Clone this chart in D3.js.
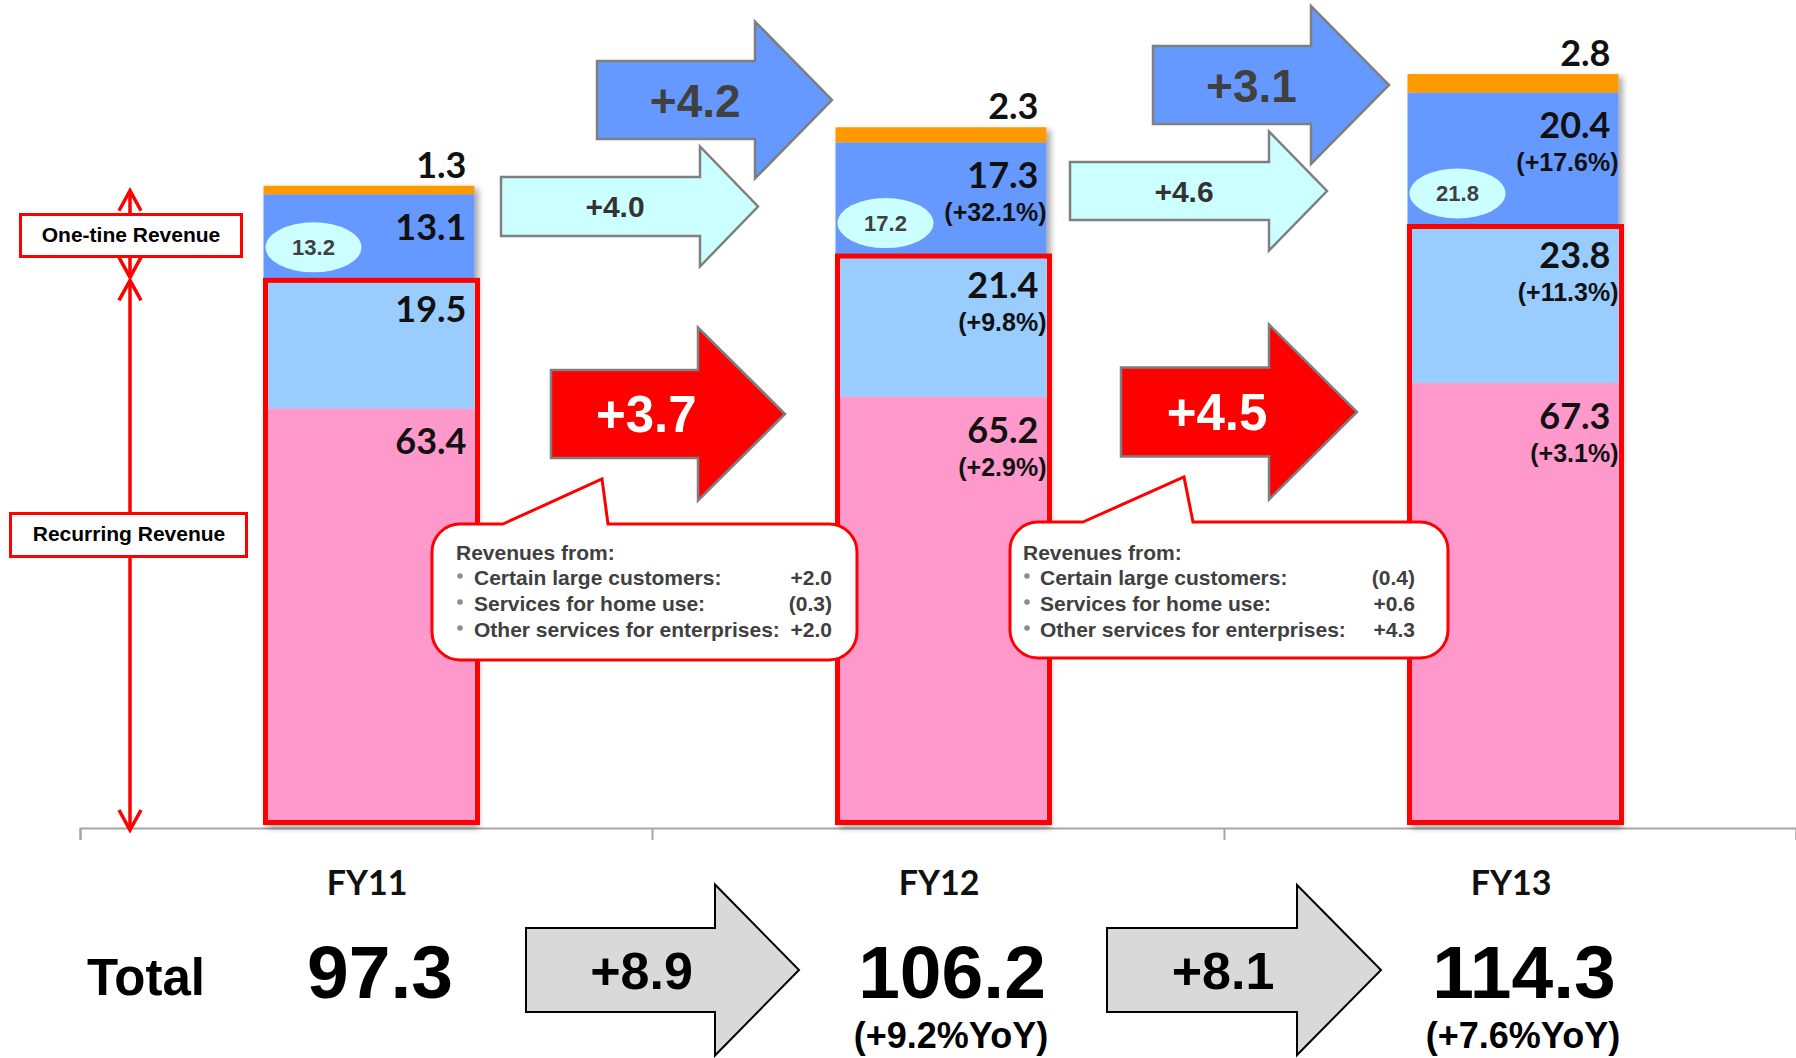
<!DOCTYPE html>
<html>
<head>
<meta charset="utf-8">
<script src="https://cdn.jsdelivr.net/npm/d3@7"></script>
<style>
  body { margin: 0; background: #fff; }
  svg { display: block; }
  .arial { font-family: "Liberation Sans", Arial, sans-serif; font-weight: bold; }
  .calib { font-family: Lato, "Open Sans", sans-serif; font-weight: bold; }
</style>
</head>
<body>
<div id="chart"></div>
<script>
// ---- data ----
var categories = ["FY11", "FY12", "FY13"];
var recurringOther = [63.4, 65.2, 67.3];   // pink
var recurringMain = [19.5, 21.4, 23.8];    // light blue
var oneTimeMain = [13.1, 17.3, 20.4];      // blue
var oneTimeOther = [1.3, 2.3, 2.8];        // orange
var pctOther = [null, "(+2.9%)", "(+3.1%)"];
var pctMain = [null, "(+9.8%)", "(+11.3%)"];
var pctOneTime = [null, "(+32.1%)", "(+17.6%)"];
var bubbleValues = [13.2, 17.2, 21.8];
var totals = [97.3, 106.2, 114.3];
var totalYoY = [null, "(+9.2%YoY)", "(+7.6%YoY)"];
var deltaOneTime = ["+4.2", "+3.1"];
var deltaBubble = ["+4.0", "+4.6"];
var deltaRecurring = ["+3.7", "+4.5"];
var deltaTotal = ["+8.9", "+8.1"];
var calloutItems = ["Certain large customers:", "Services for home use:", "Other services for enterprises:"];
var calloutValues = [["+2.0", "(0.3)", "+2.0"], ["(0.4)", "+0.6", "+4.3"]];

// svg dimensions
var svgWidth = 1796;
var svgHeight = 1058;

var svg = d3.select("#chart")
  .append("svg")
  .attr("width", svgWidth)
  .attr("height", svgHeight);

var defs = svg.append("defs");
defs.append("filter")
  .attr("id", "shadow")
  .attr("x", "-10%").attr("y", "-10%")
  .attr("width", "130%").attr("height", "130%")
  .append("feDropShadow")
  .attr("dx", 4).attr("dy", 3)
  .attr("stdDeviation", 3)
  .attr("flood-color", "#000")
  .attr("flood-opacity", 0.35);

// scales
var x = d3.scaleBand().domain(categories).range([80, 1796]);
var y = d3.scaleLinear().domain([0, 125]).range([825, 3.75]);
var barW = 211;
function barX(c) { return x(c) + x.bandwidth() / 2 + 3 - barW / 2; }
function barC(c) { return x(c) + x.bandwidth() / 2 + 3; }
function boundary(i) { return x(categories[i + 1]); }

// stacked table
var keys = ["other", "main", "oneTime", "oneTimeOther"];
var colors = {other: "#FF99CC", main: "#99CCFF", oneTime: "#6699FF", oneTimeOther: "#FF9900"};
var table = categories.map(function(c, i) {
  return {cat: c, other: recurringOther[i], main: recurringMain[i],
          oneTime: oneTimeMain[i], oneTimeOther: oneTimeOther[i]};
});
var series = d3.stack().keys(keys)(table);

// axis with ticks at band boundaries
var xb = d3.scaleLinear().domain([0, categories.length]).range(x.range());
var axis = svg.append("g")
  .attr("transform", "translate(0, 828)")
  .call(d3.axisBottom(xb).tickValues(d3.range(categories.length + 1))
    .tickSize(12).tickSizeOuter(12).tickFormat(""));
axis.selectAll("path, line").attr("stroke", "#A6A6A6").attr("stroke-width", 2);

// category labels
svg.selectAll(".cat")
  .data(categories)
  .enter()
  .append("text")
  .attr("class", "calib")
  .attr("x", d => barC(d) - 2)
  .attr("y", 895)
  .attr("text-anchor", "middle")
  .attr("font-size", 34)
  .attr("fill", "#111")
  .text(d => d);

// bars
var barGroup = svg.append("g").attr("filter", "url(#shadow)");
barGroup.selectAll("g")
  .data(series)
  .enter()
  .append("g")
  .attr("fill", d => colors[d.key])
  .selectAll("rect")
  .data(d => d)
  .enter()
  .append("rect")
  .attr("x", d => barX(d.data.cat))
  .attr("y", d => y(d[1]))
  .attr("width", barW)
  .attr("height", d => y(d[0]) - y(d[1]));

// red frame around recurring revenue
svg.selectAll(".frame")
  .data(table)
  .enter()
  .append("rect")
  .attr("x", d => barX(d.cat) + 2)
  .attr("y", d => y(d.other + d.main))
  .attr("width", barW + 1)
  .attr("height", d => y(0) - 2.5 - y(d.other + d.main))
  .attr("fill", "none")
  .attr("stroke", "#FF0000")
  .attr("stroke-width", 5);

// bubbles inside one-time segment
table.forEach(function(d, i) {
  var cx = barX(d.cat) + 50;
  var cy = y(d.other + d.main) - 33;
  svg.append("ellipse")
    .attr("cx", cx).attr("cy", cy)
    .attr("rx", 48).attr("ry", 25)
    .attr("fill", "#CCFFFF");
  svg.append("text")
    .attr("class", "arial")
    .attr("x", cx).attr("y", cy + 8)
    .attr("text-anchor", "middle")
    .attr("font-size", 22)
    .attr("fill", "#404040")
    .text(bubbleValues[i].toFixed(1));
});

// segment labels
var labelSpec = [
  {key: "other", off: 46, pct: pctOther},
  {key: "main", off: 42, pct: pctMain},
  {key: "oneTime", off: 46, pct: pctOneTime}
];
labelSpec.forEach(function(spec) {
  var s = series.find(d => d.key === spec.key);
  s.forEach(function(d, i) {
    var right = barX(d.data.cat) + barW;
    var base = y(d[1]) + spec.off;
    svg.append("text")
      .attr("class", "calib")
      .attr("x", right - 8).attr("y", base)
      .attr("text-anchor", "end")
      .attr("font-size", 36)
      .attr("fill", "#111")
      .text((d[1] - d[0]).toFixed(1));
    if (spec.pct[i]) {
      svg.append("text")
        .attr("class", "arial")
        .attr("x", right).attr("y", base + 33)
        .attr("text-anchor", "end")
        .attr("font-size", 25)
        .attr("fill", "#111")
        .text(spec.pct[i]);
    }
  });
});
// top (orange) labels
var topSeries = series.find(d => d.key === "oneTimeOther");
svg.selectAll(".toplab")
  .data(topSeries)
  .enter()
  .append("text")
  .attr("class", "calib")
  .attr("x", d => barX(d.data.cat) + barW - 8)
  .attr("y", d => y(d[1]) - 8)
  .attr("text-anchor", "end")
  .attr("font-size", 36)
  .attr("fill", "#111")
  .text(d => (d[1] - d[0]).toFixed(1));

// block arrows
function arrowPath(x0, xh, xt, yc, bh, hh) {
  var p = d3.path();
  p.moveTo(x0, yc - bh);
  p.lineTo(xh, yc - bh);
  p.lineTo(xh, yc - hh);
  p.lineTo(xt, yc);
  p.lineTo(xh, yc + hh);
  p.lineTo(xh, yc + bh);
  p.lineTo(x0, yc + bh);
  p.closePath();
  return p.toString();
}
// offsets relative to the boundary between two bands: [x0, xHead, xTip, yCenter, bodyHalf, headHalf]
var arrowSets = [
  {labels: deltaOneTime, fill: "#6699FF", stroke: "#7F7F7F", sw: 2.5, color: "#404040", size: 46,
   shapes: [[-55, 103, 180, 100, 39, 78.5], [-71, 87, 165, 85, 39, 79]]},
  {labels: deltaBubble, fill: "#CCFFFF", stroke: "#7F7F7F", sw: 2.5, color: "#333333", size: 30,
   shapes: [[-151, 48, 106, 206.5, 29.5, 60], [-154, 45, 103, 191, 29, 59.5]]},
  {labels: deltaRecurring, fill: "#FF0000", stroke: "#7F7F7F", sw: 2.5, color: "#FFFFFF", size: 51,
   shapes: [[-101, 46, 133, 414, 44, 86.5], [-103, 45, 133, 412, 44.5, 87.5]]},
  {labels: deltaTotal, fill: "#D9D9D9", stroke: "#000000", sw: 2, color: "#000000", size: 52,
   shapes: [[-126, 63, 147, 970, 42, 85.5], [-117, 73, 157, 970, 42, 85]]}
];
arrowSets.forEach(function(set) {
  set.labels.forEach(function(lab, i) {
    var b = boundary(i);
    var s = set.shapes[i];
    var x0 = b + s[0], xh = b + s[1], xt = b + s[2];
    svg.append("path")
      .attr("d", arrowPath(x0, xh, xt, s[3], s[4], s[5]))
      .attr("fill", set.fill)
      .attr("stroke", set.stroke)
      .attr("stroke-width", set.sw);
    svg.append("text")
      .attr("class", "arial")
      .attr("x", (2 * x0 + xh + xt) / 4)
      .attr("y", s[3] + set.size * 0.36)
      .attr("text-anchor", "middle")
      .attr("font-size", set.size)
      .attr("fill", set.color)
      .text(lab);
  });
});

// callouts explaining recurring growth
function calloutPath(l, t, r, b, rad, p1, tx, ty, p2) {
  var p = d3.path();
  p.moveTo(p1, t);
  p.lineTo(tx, ty);
  p.lineTo(p2, t);
  p.lineTo(r - rad, t);
  p.arcTo(r, t, r, t + rad, rad);
  p.lineTo(r, b - rad);
  p.arcTo(r, b, r - rad, b, rad);
  p.lineTo(l + rad, b);
  p.arcTo(l, b, l, b - rad, rad);
  p.lineTo(l, t + rad);
  p.arcTo(l, t, l + rad, t, rad);
  p.closePath();
  return p.toString();
}
// [left, top, right, bottom, pointerLeft, tipX, tipY, pointerRight, titleInset, textInset, valueInset]
var calloutShapes = [
  [-220, 524, 205, 660, -149, -50, 479, -44, 24, 42, 25],
  [-214, 522, 224, 658, -141, -40, 477, -31, 13, 30, 33]
];
calloutValues.forEach(function(vals, i) {
  var b = boundary(i);
  var s = calloutShapes[i];
  var l = b + s[0], r = b + s[2];
  svg.append("path")
    .attr("d", calloutPath(l, s[1], r, s[3], 28, b + s[4], b + s[5], s[6], b + s[7]))
    .attr("fill", "#FFFFFF")
    .attr("stroke", "#FF0000")
    .attr("stroke-width", 3);
  svg.append("text")
    .attr("class", "arial")
    .attr("x", l + s[8]).attr("y", 560)
    .attr("font-size", 21)
    .attr("fill", "#404040")
    .text("Revenues from:");
  calloutItems.forEach(function(item, j) {
    var base = 585 + j * 26;
    svg.append("circle")
      .attr("cx", l + s[8] + 4).attr("cy", base - 9)
      .attr("r", 2.8)
      .attr("fill", "#8C8C8C");
    svg.append("text")
      .attr("class", "arial")
      .attr("x", l + s[9]).attr("y", base)
      .attr("font-size", 21)
      .attr("fill", "#404040")
      .text(item);
    svg.append("text")
      .attr("class", "arial")
      .attr("x", r - s[10]).attr("y", base)
      .attr("text-anchor", "end")
      .attr("font-size", 21)
      .attr("fill", "#404040")
      .text(vals[j]);
  });
});

// left hand brackets: one-time vs recurring
var ax = 130;
function vArrow(y1, y2) {
  svg.append("line")
    .attr("x1", ax).attr("x2", ax)
    .attr("y1", y1).attr("y2", y2)
    .attr("stroke", "#FF0000").attr("stroke-width", 3.5);
  [[y1, 1], [y2, -1]].forEach(function(e) {
    svg.append("polyline")
      .attr("points", [[ax - 11, e[0] + 20 * e[1]], [ax, e[0]], [ax + 11, e[0] + 20 * e[1]]].join(" "))
      .attr("fill", "none")
      .attr("stroke", "#FF0000").attr("stroke-width", 3.5);
  });
}
var fy11 = table[0];
vArrow(y(totals[0]) + 5, y(fy11.other + fy11.main) - 3);
vArrow(y(fy11.other + fy11.main), y(0) + 5);

function tagBox(x0, y0, w, h, label, cx, base) {
  svg.append("rect")
    .attr("x", x0).attr("y", y0)
    .attr("width", w).attr("height", h)
    .attr("fill", "#FFFFFF")
    .attr("stroke", "#FF0000").attr("stroke-width", 3);
  svg.append("text")
    .attr("class", "arial")
    .attr("x", cx).attr("y", base)
    .attr("text-anchor", "middle")
    .attr("font-size", 21)
    .attr("fill", "#000")
    .text(label);
}
tagBox(20.5, 214.5, 221, 42, "One-tine Revenue", 131, 242);
tagBox(10.5, 513.5, 236, 43, "Recurring Revenue", 129, 541);

// totals row
svg.append("text")
  .attr("class", "arial")
  .attr("x", 87).attr("y", 995)
  .attr("font-size", 51)
  .attr("fill", "#000")
  .text("Total");
svg.selectAll(".total")
  .data(totals)
  .enter()
  .append("text")
  .attr("class", "arial")
  .attr("x", (d, i) => barC(categories[i]) + 11)
  .attr("y", 998)
  .attr("text-anchor", "middle")
  .attr("font-size", 75)
  .attr("fill", "#000")
  .text(d => d.toFixed(1));
var yoyRows = categories.map((c, i) => ({cat: c, label: totalYoY[i]})).filter(d => d.label);
svg.selectAll(".yoy")
  .data(yoyRows)
  .enter()
  .append("text")
  .attr("class", "arial")
  .attr("x", d => barC(d.cat) + 10)
  .attr("y", 1048)
  .attr("text-anchor", "middle")
  .attr("font-size", 36)
  .attr("fill", "#000")
  .text(d => d.label);
</script>
</body>
</html>
